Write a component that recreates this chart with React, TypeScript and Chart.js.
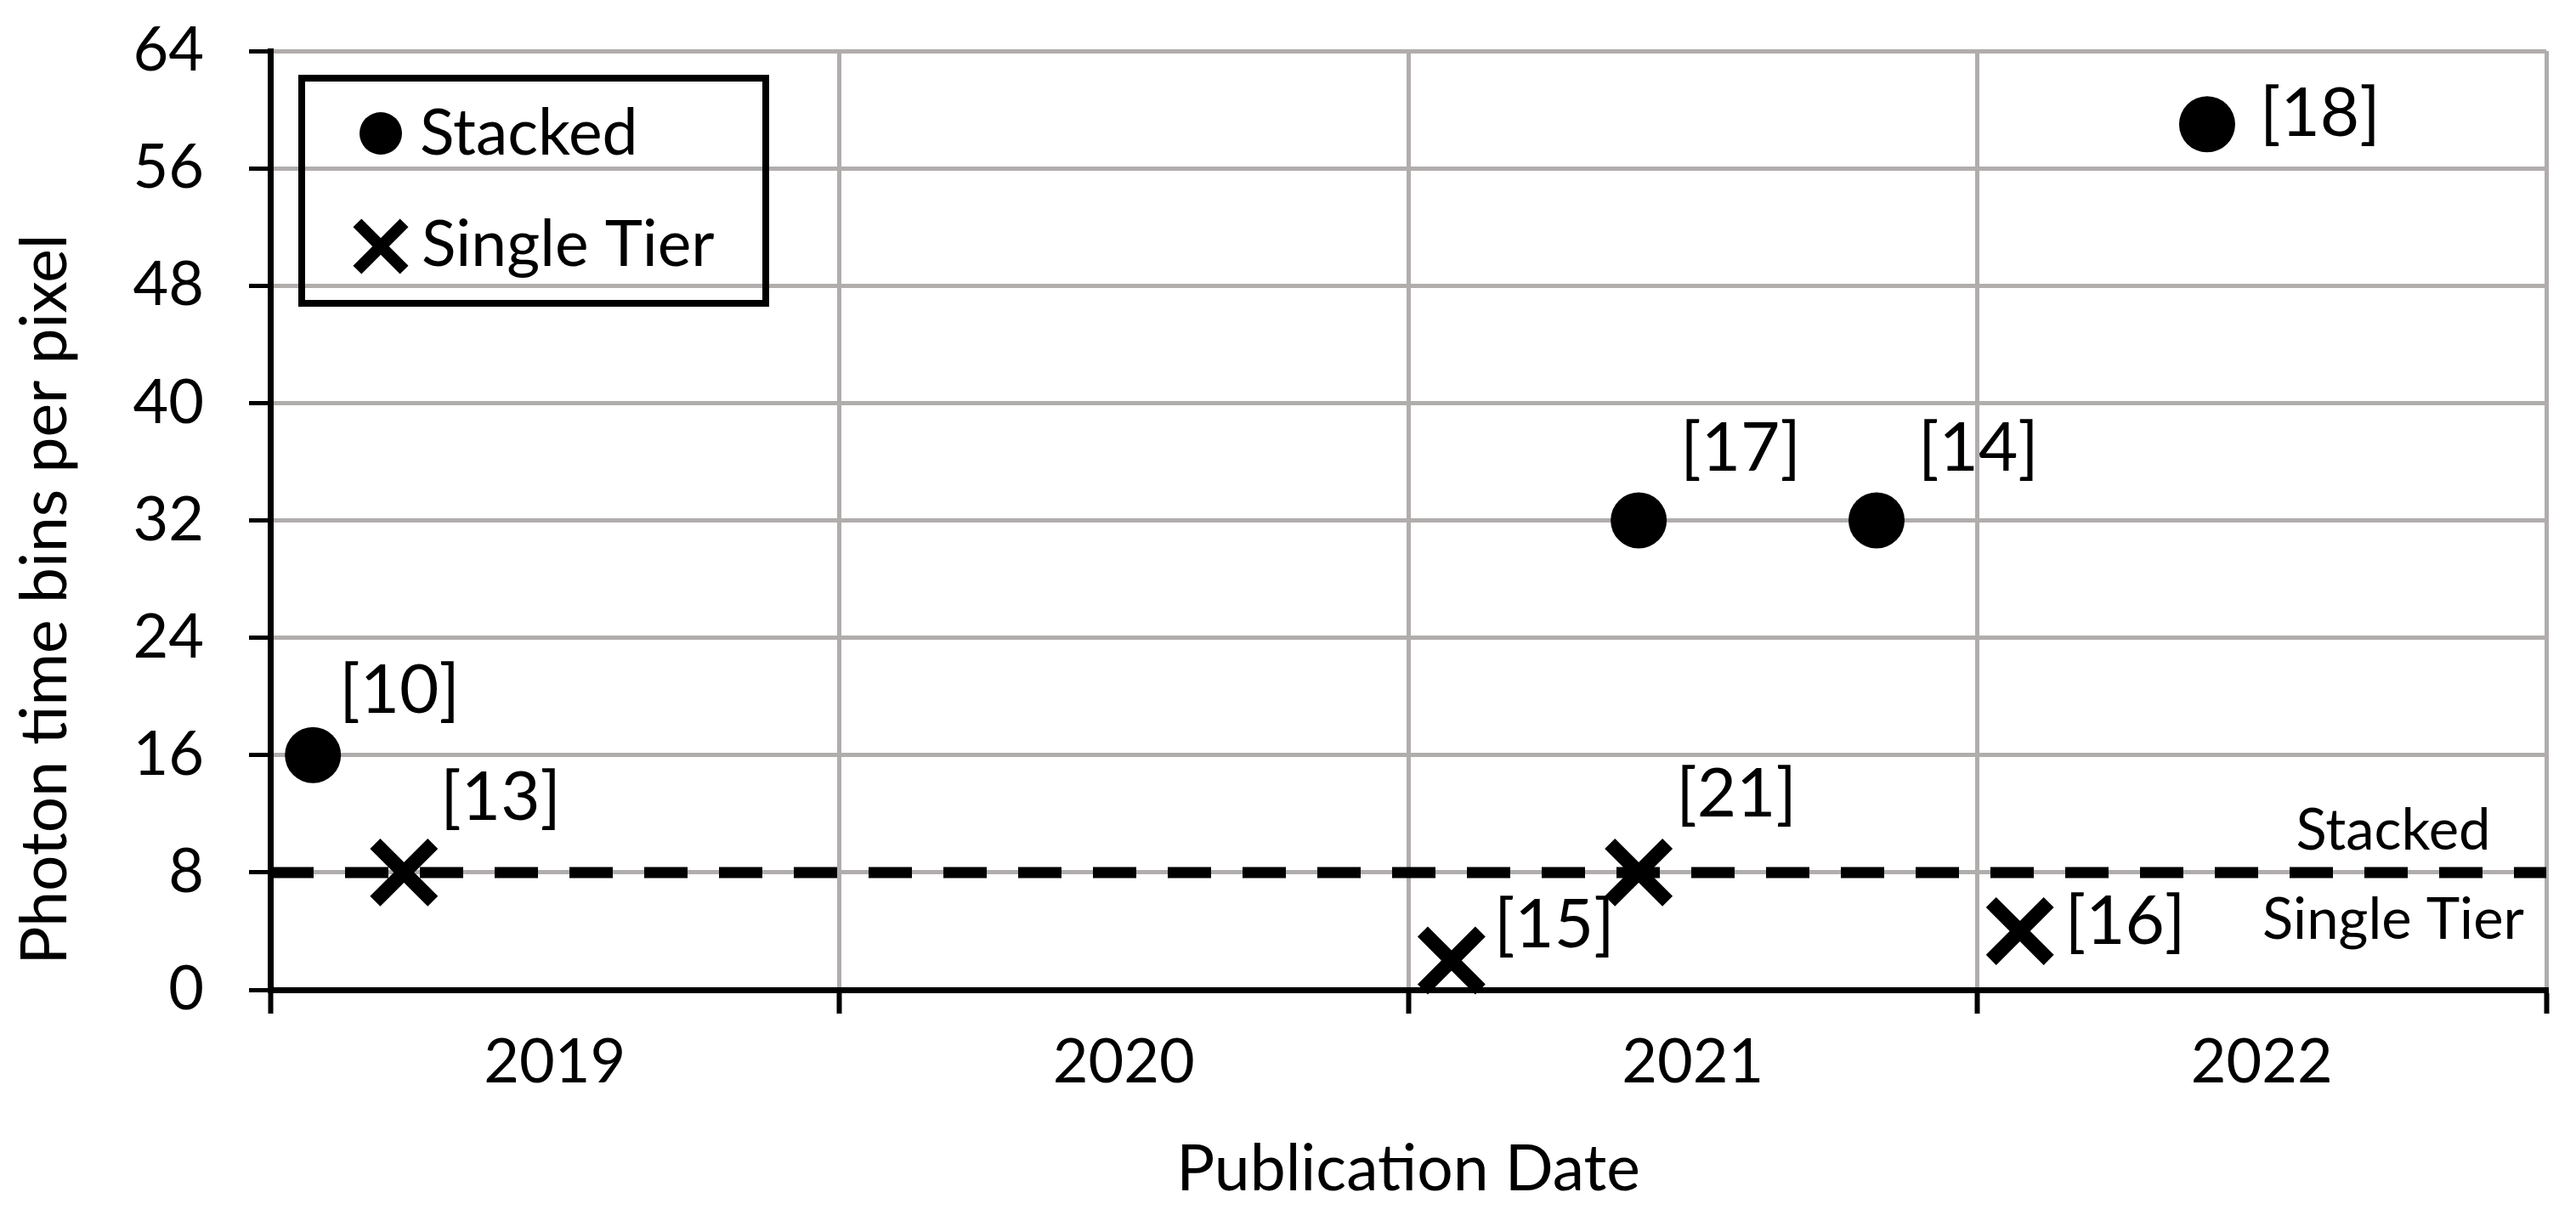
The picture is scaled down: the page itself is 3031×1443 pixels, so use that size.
import React, { useEffect, useRef } from 'react'
import { Chart, registerables } from 'chart.js'
import { drawPoint } from 'chart.js/helpers'

Chart.register(...registerables)

const FONT = 'Lato, "Open Sans", sans-serif'

// year bands on the date axis
const years = [2019, 2020, 2021, 2022]
const binTicksMax = 64
const binStep = 8

// stacked sensors
const stackedDates = [2019.075, 2021.405, 2021.823, 2022.404]
const stackedBins = [16, 32, 32, 59]
const stackedRefs = ['[10]', '[17]', '[14]', '[18]']

// single tier sensors
const singleDates = [2019.235, 2021.076, 2021.405, 2022.075]
const singleBins = [8, 2, 8, 4]
const singleRefs = ['[13]', '[15]', '[21]', '[16]']

// boundary between the two groups
const thresholdBins = 8

const yTitle = 'Photon time bins per pixel'
const xTitle = 'Publication Date'

// where each reference label sits next to its marker (px)
const stackedRefOffsets = [[31, -76], [49, -84], [49, -84], [62, -12]]
const singleRefOffsets = [[43, -88], [50, -41], [44, -92], [53, -11]]

const GRID = 'rgb(176, 173, 172)'

const annotations = {
    id: 'annotations',
    afterDatasetsDraw(chart: any) {
        const { ctx, chartArea, scales } = chart
        ctx.save()
        ctx.fillStyle = '#000'
        ctx.strokeStyle = '#000'

        // reference labels next to each marker
        ctx.font = `80px ${FONT}`
        ctx.textAlign = 'left'
        ctx.textBaseline = 'middle'
        const sets: [number, string[], number[][]][] = [
            [0, stackedRefs, stackedRefOffsets],
            [1, singleRefs, singleRefOffsets]
        ]
        sets.forEach(([idx, refs, offsets]) => {
            chart.getDatasetMeta(idx).data.forEach((pt: any, i: number) => {
                ctx.fillText(refs[i], pt.x + offsets[i][0], pt.y + offsets[i][1])
            })
        })

        // region names either side of the dashed boundary
        const yLine = scales.y.getPixelForValue(thresholdBins)
        ctx.font = `67px ${FONT}`
        ctx.textAlign = 'center'
        ctx.textBaseline = 'alphabetic'
        const cx = chartArea.right - 180
        ctx.fillText('Stacked', cx, yLine - 27)
        ctx.fillText('Single Tier', cx, yLine + 78)

        // boxed legend
        const lx = chartArea.left
        const ly = chartArea.top
        ctx.lineWidth = 8
        ctx.strokeRect(lx + 37, ly + 32, 546, 265)

        ctx.font = `75px ${FONT}`
        ctx.textAlign = 'left'
        drawPoint(ctx, { pointStyle: 'circle', radius: 25, borderWidth: 0, rotation: 0 }, lx + 130, ly + 97)
        ctx.fillText(chart.data.datasets[0].label, lx + 176, ly + 122)

        ctx.lineWidth = 14
        drawPoint(ctx, { pointStyle: 'crossRot', radius: 39, borderWidth: 14, rotation: 0 }, lx + 130, ly + 230)
        ctx.fillText(chart.data.datasets[1].label, lx + 178, ly + 253)

        // vertical axis title, sitting a little below the plot middle
        ctx.translate(78, (chartArea.top + chartArea.bottom) / 2 + 93)
        ctx.rotate(-Math.PI / 2)
        ctx.textAlign = 'center'
        ctx.textBaseline = 'alphabetic'
        ctx.fillText(yTitle, 0, 0)

        ctx.restore()
    }
}

const BinsChart: React.FC = () => {
    const chartRef = useRef<HTMLCanvasElement>(null)
    const chartInstance = useRef<Chart | null>(null)

    useEffect(() => {
        if (!chartRef.current) return
        const ctx = chartRef.current.getContext('2d')
        if (!ctx) return

        if (chartInstance.current) {
            chartInstance.current.destroy()
        }

        const xMin = years[0]
        const xMax = years[years.length - 1] + 1

        chartInstance.current = new Chart(ctx, {
            type: 'scatter',
            data: {
                datasets: [
                    {
                        label: 'Stacked',
                        data: stackedDates.map((d, i) => ({ x: d, y: stackedBins[i] })),
                        pointStyle: 'circle',
                        pointRadius: 33,
                        pointHoverRadius: 33,
                        pointBackgroundColor: '#000',
                        pointBorderWidth: 0,
                        clip: false
                    },
                    {
                        label: 'Single Tier',
                        data: singleDates.map((d, i) => ({ x: d, y: singleBins[i] })),
                        pointStyle: 'crossRot',
                        pointRadius: 48,
                        pointHoverRadius: 48,
                        pointBorderColor: '#000',
                        pointBorderWidth: 17,
                        clip: false
                    },
                    {
                        label: 'boundary',
                        data: [{ x: xMin, y: thresholdBins }, { x: xMax, y: thresholdBins }],
                        showLine: true,
                        borderColor: '#000',
                        borderWidth: 13,
                        borderDash: [51, 37],
                        pointRadius: 0,
                        pointHoverRadius: 0
                    }
                ]
            } as any,
            options: {
                animation: false,
                responsive: true,
                maintainAspectRatio: false,
                devicePixelRatio: 1,
                events: [],
                layout: {
                    autoPadding: false,
                    padding: { top: 60, right: 35, left: 0, bottom: 0 }
                },
                plugins: {
                    legend: { display: false },
                    tooltip: { enabled: false }
                },
                scales: {
                    x: {
                        type: 'linear',
                        min: xMin,
                        max: xMax,
                        afterFit: (s: any) => {
                            s.height = 278
                            s.paddingLeft = 0
                            s.paddingRight = 0
                        },
                        ticks: {
                            stepSize: 0.5,
                            autoSkip: false,
                            maxRotation: 0,
                            padding: 15,
                            color: '#000',
                            font: { family: FONT, size: 72 },
                            callback: (v: any) => {
                                if (Number.isInteger(v)) return ''
                                const idx = years.indexOf(Math.floor(v))
                                return idx >= 0 ? String(years[idx]) : ''
                            }
                        },
                        grid: {
                            color: (c: any) => Number.isInteger(c.tick?.value) ? GRID : 'rgba(0,0,0,0)',
                            lineWidth: 5,
                            tickColor: (c: any) => Number.isInteger(c.tick?.value) ? '#000' : 'rgba(0,0,0,0)',
                            tickLength: 28,
                            tickWidth: 6
                        },
                        border: { color: '#000', width: 7 },
                        title: {
                            display: true,
                            text: xTitle,
                            color: '#000',
                            font: { family: FONT, size: 75 },
                            padding: { top: 0, bottom: 21 }
                        }
                    },
                    y: {
                        min: 0,
                        max: binTicksMax,
                        afterFit: (s: any) => {
                            s.width = 318
                            s.paddingTop = 0
                            s.paddingBottom = 0
                        },
                        ticks: {
                            stepSize: binStep,
                            padding: 53,
                            color: '#000',
                            font: { family: FONT, size: 72 }
                        },
                        grid: {
                            color: GRID,
                            lineWidth: 5,
                            tickColor: '#000',
                            tickLength: 25,
                            tickWidth: 5
                        },
                        border: { color: '#000', width: 7 },
                        title: { display: false }
                    }
                }
            } as any,
            plugins: [annotations]
        })

        return () => {
            if (chartInstance.current) {
                chartInstance.current.destroy()
                chartInstance.current = null
            }
        }
    }, [])

    return (
        <div style={{ position: 'absolute', left: 0, top: 0, width: 3031, height: 1443, background: '#fff' }}>
            <canvas ref={chartRef}></canvas>
        </div>
    )
}

export default function App() {
    return <BinsChart />
}
